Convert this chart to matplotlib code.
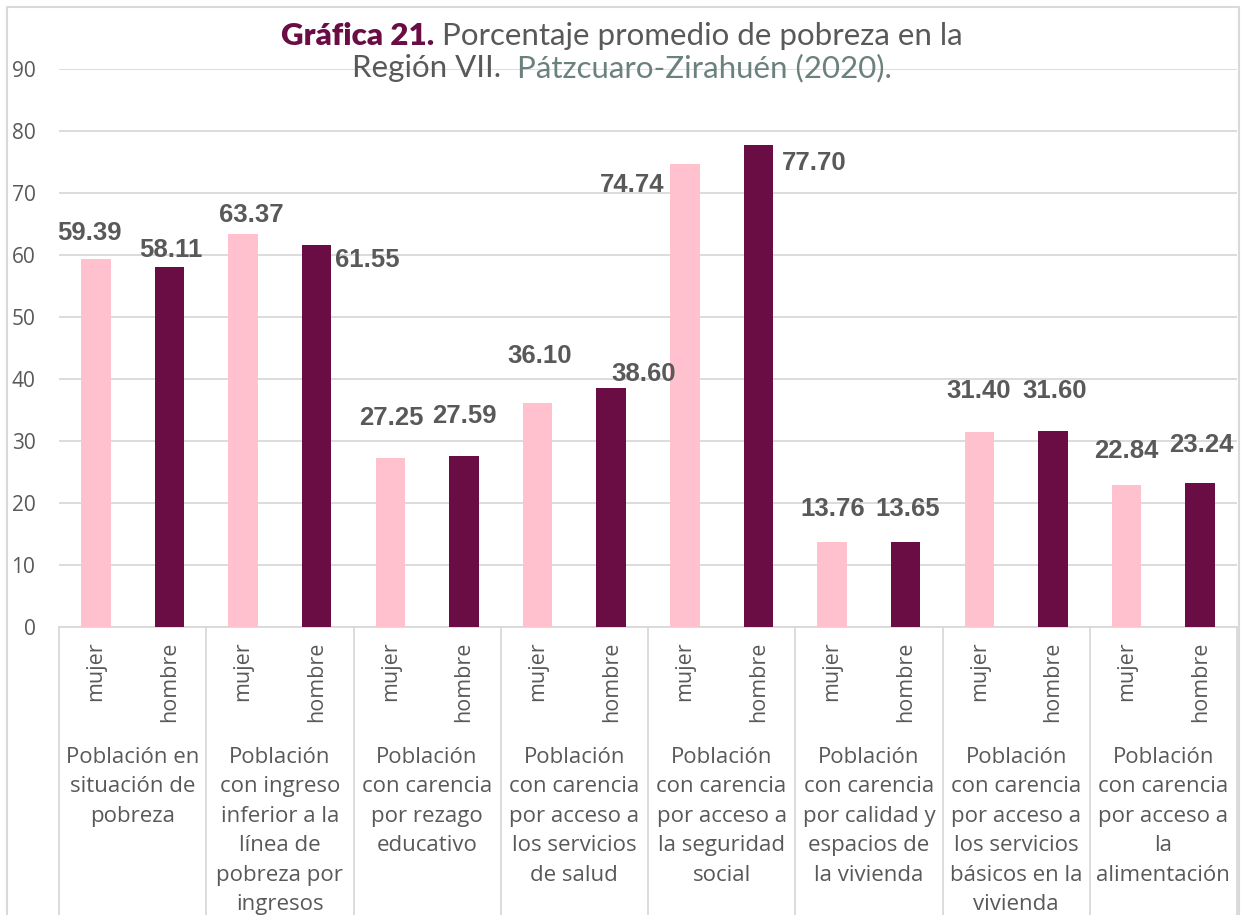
import matplotlib
matplotlib.use("Agg")
import matplotlib.pyplot as plt
from matplotlib.lines import Line2D
import numpy as np

# datos de la gráfica
categorias = [
    "Población en\nsituación de\npobreza",
    "Población\ncon ingreso\ninferior a la\nlínea de\npobreza por\ningresos",
    "Población\ncon carencia\npor rezago\neducativo",
    "Población\ncon carencia\npor acceso a\nlos servicios\nde salud",
    "Población\ncon carencia\npor acceso a\nla seguridad\nsocial",
    "Población\ncon carencia\npor calidad y\nespacios de\nla vivienda",
    "Población\ncon carencia\npor acceso a\nlos servicios\nbásicos en la\nvivienda",
    "Población\ncon carencia\npor acceso a\nla\nalimentación",
]
mujer = [59.39, 63.37, 27.25, 36.10, 74.74, 13.76, 31.40, 22.84]
hombre = [58.11, 61.55, 27.59, 38.60, 77.70, 13.65, 31.60, 23.24]
sexos = ["mujer", "hombre"]
yticks = [0, 10, 20, 30, 40, 50, 60, 70, 80, 90]

# desplazamiento de las etiquetas (pixeles) respecto a la parte alta de cada barra
off_mujer = [(-6, 26), (8, 19), (1, 40), (2, 47), (-53, -21), (1, 33), (-1, 41), (0, 34)]
off_hombre = [(1, 17), (51, -15), (0, 40), (32, 14), (56, -18), (2, 33), (2, 40), (1, 38)]

ROSA = "#FFC1CD"
VINO = "#6B0D45"
GRIS = "#595959"
GRID = "#D9D9D9"

fig = plt.figure(figsize=(12.46, 9.15), dpi=100)
ax = fig.add_axes([59 / 1246, (915 - 627) / 915, (1237 - 59) / 1246, (627 - 69) / 915])

x = np.arange(len(categorias))
ax.bar(x + 0.25, mujer, width=0.2, color=ROSA, zorder=3)
ax.bar(x + 0.75, hombre, width=0.2, color=VINO, zorder=3)

lab_font = dict(family="Liberation Sans", fontsize=18.5, fontweight="bold", color=GRIS)
for i in range(len(categorias)):
    ax.annotate(f"{mujer[i]:.2f}", (x[i] + 0.25, mujer[i]), xytext=off_mujer[i],
                textcoords="offset pixels", ha="center", va="center", **lab_font)
    ax.annotate(f"{hombre[i]:.2f}", (x[i] + 0.75, hombre[i]), xytext=off_hombre[i],
                textcoords="offset pixels", ha="center", va="center", **lab_font)

ax.set_xlim(0, len(categorias))
ax.set_ylim(0, 90)
ax.set_yticks(yticks)
ax.set_yticklabels([str(t) for t in yticks], family="Open Sans", fontsize=15, color=GRIS)
ax.tick_params(axis="y", length=0, pad=17)
ax.set_xticks([])
ax.yaxis.grid(True, color=GRID, linewidth=1.3, zorder=0)
for s in ["left", "right", "top"]:
    ax.spines[s].set_visible(False)
ax.spines["bottom"].set_color(GRID)
ax.spines["bottom"].set_linewidth(1.3)

# etiquetas de dos niveles
trans = ax.get_xaxis_transform()
for i in range(len(categorias)):
    for k, sx in enumerate(sexos):
        ax.text(x[i] + 0.25 + 0.5 * k, -0.026, sx, transform=trans, rotation=90,
                ha="center", va="top", family="Open Sans", fontsize=15.5, color=GRIS)
    ax.text(x[i] + 0.5, -0.2145, categorias[i], transform=trans, ha="center", va="top",
            family="Open Sans", fontsize=16, color=GRIS, linespacing=1.53)
for b in range(len(categorias) + 1):
    ax.add_line(Line2D([b, b], [0, -0.52], transform=trans, color=GRID,
                       linewidth=1.3, clip_on=False))

# marco exterior (sin borde inferior, la imagen está recortada)
bx = [7 / 1246, 7 / 1246, 1239 / 1246, 1239 / 1246]
by = [0, 1 - 7 / 915, 1 - 7 / 915, 0]
fig.add_artist(Line2D(bx, by, transform=fig.transFigure, color=GRID, linewidth=1.5))

# título con varios colores
fig.canvas.draw()
rend = fig.canvas.get_renderer()


def linea(partes, y_pix, cx=622):
    objs = []
    for txt, col, peso in partes:
        t = fig.text(0, 1 - y_pix / 915, txt, color=col, fontweight=peso,
                     family="Lato", fontsize=22.5, va="baseline", ha="left")
        objs.append(t)
    anchos = [t.get_window_extent(rend).width for t in objs]
    x0 = cx - sum(anchos) / 2
    for t, w in zip(objs, anchos):
        t.set_x(x0 / 1246)
        x0 += w


linea([("Gráfica 21.", VINO, "heavy"),
       (" Porcentaje promedio de pobreza en la", GRIS, "normal")], 45)
linea([("Región VII.  ", GRIS, "normal"),
       ("Pátzcuaro-Zirahuén (2020).", "#6B817D", "normal")], 77)

fig.savefig("out.png", dpi=100)
